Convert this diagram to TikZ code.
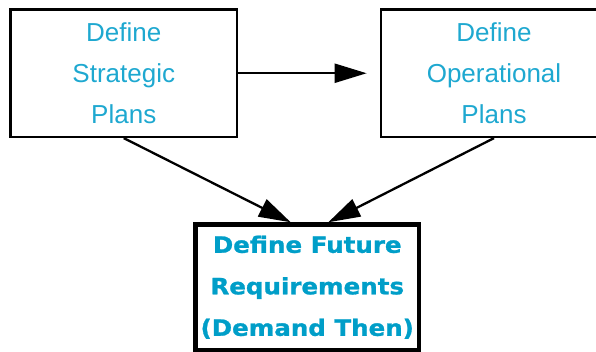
\documentclass[tikz,border=0pt]{standalone}
\usepackage{fontspec}
\setmainfont{Liberation Sans}
\newfontfamily\heavyfont{DejaVu Sans}[FakeStretch=1.09,FakeBold=1.2]
\usetikzlibrary{arrows.meta,positioning}
\definecolor{plancyan}{RGB}{30,168,208}
\definecolor{reqcyan}{RGB}{0,158,200}

\begin{document}
\begin{tikzpicture}[x=1pt,y=1pt,yscale=-1,xscale=1,
	planbox/.style={draw,line width=2.2pt,minimum width=226.5pt,minimum height=127.5pt,inner sep=0pt,align=center,text=plancyan,font=\fontsize{26}{41}\selectfont},
	reqbox/.style={draw,line width=4.4pt,minimum width=223.5pt,minimum height=125.5pt,inner sep=0pt,align=center,text=reqcyan,font=\heavyfont\bfseries\fontsize{22.5}{41.5}\selectfont},
	flow/.style={line width=2.3pt,-{Triangle[length=32pt,width=19pt]}}]
	%set diagram size: 596 x 352
	\useasboundingbox (0,0) rectangle (596,352);
	
	%Shape: Rectangle [strategic plans]
	\node[planbox] (strat) at (123.75,73.25) {Define\\Strategic\\Plans};
	%Shape: Rectangle [operational plans]
	\node[planbox] (oper) at (494,73.25) {Define\\Operational\\Plans};
	%Shape: Rectangle [future requirements]
	\node[reqbox] (futreq) at (307.25,287.25) {Define Future\\Requirements\\(Demand Then)};
	
	\coordinate (lefthit) at ([xshift=-16.5pt]futreq.north);
	\coordinate (righthit) at ([xshift=21pt]futreq.north);
	
	%Straight Lines
	\draw[flow,shorten >=13pt] (strat.east) -- (oper.west);
	%Straight Lines
	\draw[flow] (strat.south) -- (lefthit);
	%Straight Lines
	\draw[flow] (oper.south) -- (righthit);
	
\end{tikzpicture}
\end{document}
